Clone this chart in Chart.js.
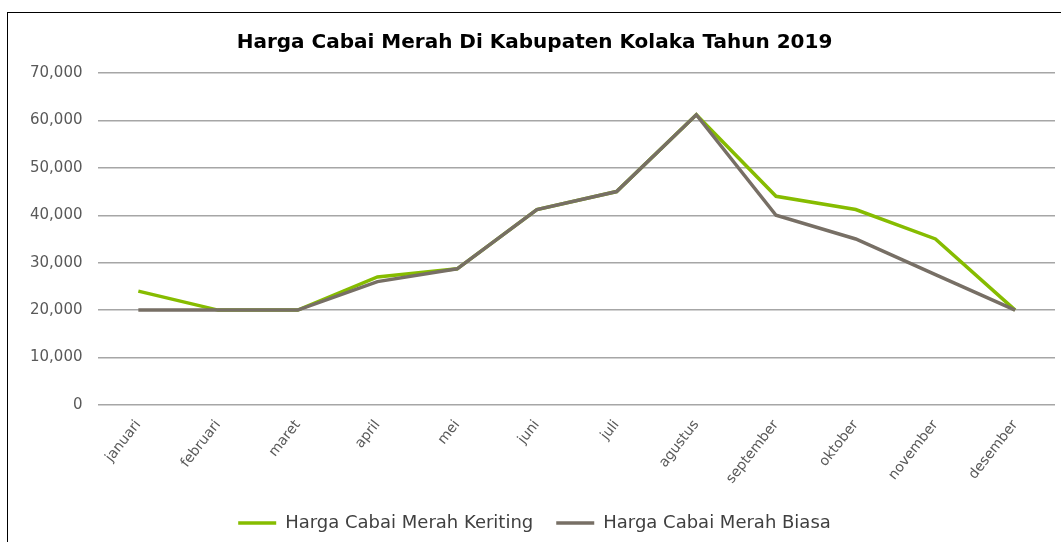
<!DOCTYPE html>
<html>
<head>
<meta charset="utf-8">
<script src="https://cdn.jsdelivr.net/npm/chart.js@4.4.0/dist/chart.umd.min.js"></script>
<style>
  body { margin: 0; background: #fff; }
  .frame { position: absolute; left: 7px; top: 12px; width: 1060px; height: 540px; border: 1px solid #000; box-sizing: border-box; }
  .wrap { position: absolute; left: 0; top: 0; width: 1061px; height: 542px; }
</style>
</head>
<body>
<div class="frame"></div>
<div class="wrap"><canvas id="line_chart" width="1061" height="542"></canvas></div>
<script>
const months = ["januari", "februari", "maret", "april", "mei", "juni", "juli", "agustus", "september", "oktober", "november", "desember"];
const keriting = [24000, 20000, 20000, 27000, 28700, 41200, 45000, 61200, 44000, 41200, 35000, 20000];
const biasa = [20000, 20000, 20000, 26000, 28700, 41200, 45000, 61200, 40000, 35000, 27500, 20000];
const yTicks = [0, 10000, 20000, 30000, 40000, 50000, 60000, 70000];

const font = "'DejaVu Sans', sans-serif";
const ctx = document.getElementById("line_chart").getContext("2d");

// biasa goes first so it is drawn on top, legend reversed to keep keriting first
let configuration = {
  type: "line",
  data: {
    labels: months,
    datasets: [
      {
        label: "Harga Cabai Merah Biasa",
        data: biasa,
        borderColor: "#776f65",
        backgroundColor: "#776f65",
        borderWidth: 3.5,
        pointRadius: 0,
        tension: 0,
      },
      {
        label: "Harga Cabai Merah Keriting",
        data: keriting,
        borderColor: "#86bc00",
        backgroundColor: "#86bc00",
        borderWidth: 3.5,
        pointRadius: 0,
        tension: 0,
      },
    ],
  },
  options: {
    responsive: false,
    animation: false,
    layout: { padding: { left: 14, right: 6, top: 20, bottom: 0 } },
    plugins: {
      title: {
        display: true,
        text: "Harga Cabai Merah Di Kabupaten Kolaka Tahun 2019",
        color: "#000",
        font: { family: font, size: 20, weight: "bold" },
        padding: { top: 11, bottom: 18 },
      },
      legend: {
        position: "bottom",
        reverse: true,
        labels: {
          usePointStyle: true,
          pointStyle: "line",
          pointStyleWidth: 38,
          color: "#404040",
          font: { family: font, size: 18 },
          padding: 23,
        },
      },
      tooltip: { enabled: false },
    },
    scales: {
      x: {
        offset: true,
        grid: { display: false },
        border: { display: false },
        ticks: {
          color: "#595959",
          font: { family: font, size: 14 },
          minRotation: 52,
          maxRotation: 52,
          padding: 4,
        },
      },
      y: {
        min: 0,
        max: 70000,
        afterBuildTicks: (axis) => { axis.ticks = yTicks.map((v) => ({ value: v })); },
        grid: { color: "#a6a6a6", lineWidth: 1.5, drawTicks: false },
        border: { display: false },
        ticks: {
          color: "#595959",
          font: { family: font, size: 15 },
          padding: 16,
          callback: (v) => v.toLocaleString("en-US"),
        },
      },
    },
  },
};

new Chart(ctx, configuration);
</script>
</body>
</html>
